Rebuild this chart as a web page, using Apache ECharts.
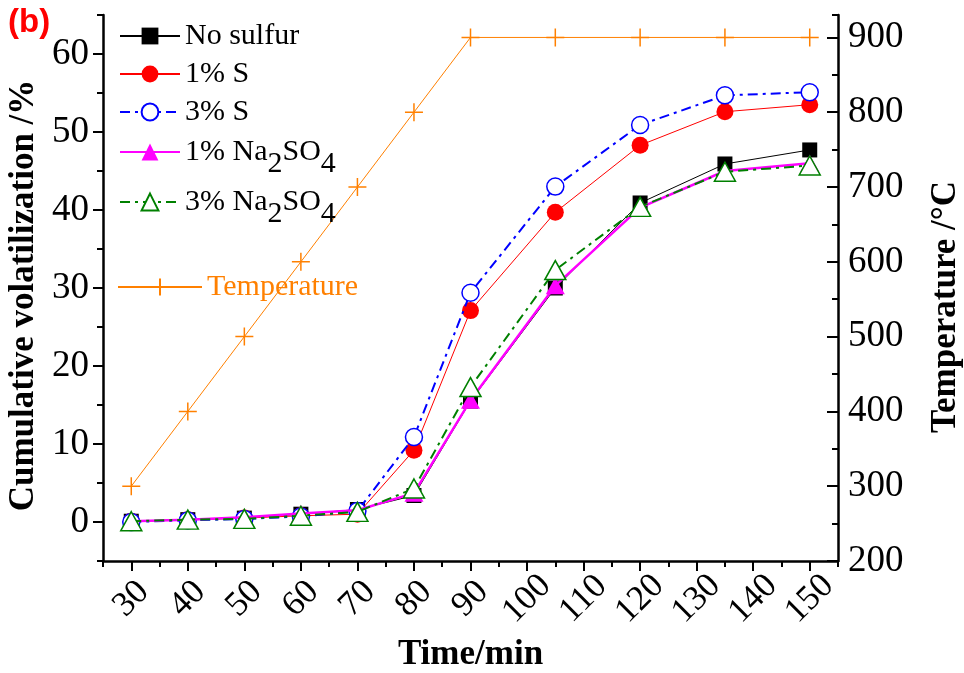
<!DOCTYPE html>
<html><head><meta charset="utf-8">
<script src="https://cdn.jsdelivr.net/npm/echarts@6/dist/echarts.min.js"></script>
<style>html,body{margin:0;padding:0;background:#fff}#c{width:964px;height:673px}</style>
</head><body><div id="c"></div>
<script>
// ---- data ----
const times = [30, 40, 50, 60, 70, 80, 90, 105, 120, 135, 150];
const seriesNames = ['No sulfur', '1% S', '3% S', '1% Na2SO4', '3% Na2SO4', 'Temperature'];
const noSulfur = [0.1, 0.3, 0.5, 1.0, 1.6, 3.4, 15.5, 30.0, 40.9, 45.9, 47.7];
const sulfur1 = [0.1, 0.3, 0.5, 0.8, 1.0, 9.2, 27.1, 39.7, 48.3, 52.6, 53.5];
const sulfur3 = [0.0, 0.2, 0.4, 0.7, 1.4, 10.9, 29.4, 43.0, 50.9, 54.7, 55.1];
const na2so4_1 = [0.1, 0.3, 0.6, 1.1, 1.5, 3.7, 15.6, 30.3, 40.3, 45.0, 46.0];
const na2so4_3 = [0.1, 0.3, 0.4, 0.8, 1.3, 4.3, 17.3, 32.3, 40.4, 44.9, 45.7];
const temperature = [300, 400, 500, 600, 700, 800, 900, 900, 900, 900, 900];
const xTickLabels = [30, 40, 50, 60, 70, 80, 90, 100, 110, 120, 130, 140, 150];
const leftTickLabels = [0, 10, 20, 30, 40, 50, 60];
const rightTickLabels = [200, 300, 400, 500, 600, 700, 800, 900];

// ---- styling ----
const serif = 'Liberation Serif';
const orange = '#FF8000';
const plusPath = 'path://M0,5 L10,5 M5,0 L5,10';
const pairs = ys => times.map((t, i) => [t, ys[i]]);
const black = '#000000';

function fmtName(name) {
  const m = name.match(/^(.*Na)2SO4$/);
  if (m) return '{n|' + m[1] + '}{s|2}{n|SO}{s|4}';
  return '{n|' + name + '}';
}
const rich = {
  n: { fontFamily: serif, fontSize: 30, lineHeight: 30, color: black },
  s: { fontFamily: serif, fontSize: 30, lineHeight: 30, color: black, padding: [24, 0, 0, 0] }
};
function legendAt(names, top, opts) {
  return Object.assign({
    data: names, orient: 'vertical', left: 119, top: top,
    itemWidth: 60, itemHeight: 21, itemGap: 8, selectedMode: false,
    formatter: fmtName, padding: 0,
    textStyle: { fontFamily: serif, fontSize: 30, color: black, rich: rich }
  }, opts || {});
}

function axisLine() { return { show: true, onZero: false, lineStyle: { color: black, width: 2.5, type: 'solid', opacity: 1 } }; }
function hiddenLine() { return { show: false, onZero: false }; }
function tickStyle() { return { color: black, width: 2 }; }

const option = {
  animation: false,
  backgroundColor: '#fff',
  title: { text: '(b)', left: 8, top: 6, padding: 0,
    textStyle: { fontFamily: 'Liberation Sans', fontWeight: 'bold', fontSize: 33, color: '#FF0000' } },
  grid: { left: 103, right: 126, top: 15, bottom: 112, containLabel: false, outerBoundsMode: 'none' },
  legend: [
    legendAt(seriesNames.slice(0, 3), 21),
    legendAt([seriesNames[3]], 125),
    legendAt([seriesNames[4]], 175),
    legendAt([seriesNames[5]], 272, { left: 117, itemWidth: 84,
      textStyle: { fontFamily: serif, fontSize: 30, color: orange,
        rich: { n: { fontFamily: serif, fontSize: 30, lineHeight: 30, color: orange } } } })
  ],
  xAxis: [
    { type: 'value', min: 25, max: 155, interval: 5, position: 'bottom',
      axisLine: axisLine(),
      axisTick: { show: true, length: 6, lineStyle: tickStyle() },
      axisLabel: { show: true, rotate: 45, margin: 38, align: 'center', verticalAlign: 'middle',
        fontFamily: serif, fontSize: 35, color: black,
        formatter: v => (xTickLabels.indexOf(v) >= 0 ? String(v) : '') },
      splitLine: { show: false },
      name: 'Time/min', nameLocation: 'middle', nameGap: 72,
      nameTextStyle: { fontFamily: serif, fontSize: 35, fontWeight: 'bold', color: black } },
    { type: 'value', min: 25, max: 155, position: 'bottom',
      axisLine: hiddenLine(),
      axisTick: { show: true, length: 10, lineStyle: tickStyle(), customValues: xTickLabels },
      axisLabel: { show: false }, splitLine: { show: false } }
  ],
  yAxis: [
    { type: 'value', min: -5, max: 65, interval: 5, position: 'left',
      axisLine: axisLine(),
      axisTick: { show: true, length: 6, lineStyle: tickStyle() },
      axisLabel: { margin: 14, fontFamily: serif, fontSize: 37, color: black,
        formatter: v => (leftTickLabels.indexOf(v) >= 0 ? String(v) : '') },
      splitLine: { show: false },
      name: 'Cumulative volatilization /%', nameLocation: 'middle', nameRotate: 90, nameGap: 54,
      nameTextStyle: { fontFamily: serif, fontSize: 35, fontWeight: 'bold', color: black, padding: [0, 15, 0, 0] } },
    { type: 'value', min: 200, max: 930, interval: 50, position: 'right',
      axisLine: axisLine(),
      axisTick: { show: true, inside: true, length: 6, lineStyle: tickStyle() },
      axisLabel: { margin: 10, fontFamily: serif, fontSize: 37, color: black,
        formatter: v => (rightTickLabels.indexOf(v) >= 0 ? String(v) : '') },
      splitLine: { show: false },
      name: 'Temperature /°C', nameLocation: 'middle', nameRotate: 90, nameGap: 90,
      nameTextStyle: { fontFamily: serif, fontSize: 35, fontWeight: 'bold', color: black, padding: [0, 38, 0, 0] } },
    { type: 'value', min: -5, max: 65, position: 'left',
      axisLine: hiddenLine(),
      axisTick: { show: true, length: 10, lineStyle: tickStyle(), customValues: leftTickLabels },
      axisLabel: { show: false }, splitLine: { show: false } },
    { type: 'value', min: 200, max: 930, position: 'right',
      axisLine: hiddenLine(),
      axisTick: { show: true, inside: true, length: 11, lineStyle: tickStyle(), customValues: rightTickLabels },
      axisLabel: { show: false }, splitLine: { show: false } }
  ],
  series: [
    { name: seriesNames[5], type: 'line', xAxisIndex: 0, yAxisIndex: 1, data: pairs(temperature),
      symbol: plusPath, symbolSize: 18, z: 1,
      lineStyle: { color: orange, width: 1 },
      itemStyle: { color: 'rgba(0,0,0,0)', borderColor: orange, borderWidth: 1.5 } },
    { name: seriesNames[0], type: 'line', xAxisIndex: 0, yAxisIndex: 0, data: pairs(noSulfur),
      symbol: 'rect', symbolSize: 15, z: 2,
      lineStyle: { color: black, width: 1 },
      itemStyle: { color: black } },
    { name: seriesNames[1], type: 'line', xAxisIndex: 0, yAxisIndex: 0, data: pairs(sulfur1),
      symbol: 'circle', symbolSize: 17, z: 3,
      lineStyle: { color: '#FF0000', width: 1 },
      itemStyle: { color: '#FF0000' } },
    { name: seriesNames[2], type: 'line', xAxisIndex: 0, yAxisIndex: 0, data: pairs(sulfur3),
      symbol: 'circle', symbolSize: 17, z: 4,
      lineStyle: { color: '#0000FF', width: 2, type: [10, 5, 3, 5] },
      itemStyle: { color: '#fff', borderColor: '#0000FF', borderWidth: 1.5 } },
    { name: seriesNames[3], type: 'line', xAxisIndex: 0, yAxisIndex: 0, data: pairs(na2so4_1),
      symbol: 'triangle', symbolSize: [19, 17], z: 5,
      lineStyle: { color: '#FF00FF', width: 2.5 },
      itemStyle: { color: '#FF00FF' } },
    { name: seriesNames[4], type: 'line', xAxisIndex: 0, yAxisIndex: 0, data: pairs(na2so4_3),
      symbol: 'triangle', symbolSize: [21, 19], z: 6,
      lineStyle: { color: '#008000', width: 2, type: [10, 5, 3, 5] },
      itemStyle: { color: '#fff', borderColor: '#008000', borderWidth: 1.5 } }
  ]
};
const chart = echarts.init(document.getElementById('c'), null, { renderer: 'canvas' });
chart.setOption(option);
</script></body></html>
